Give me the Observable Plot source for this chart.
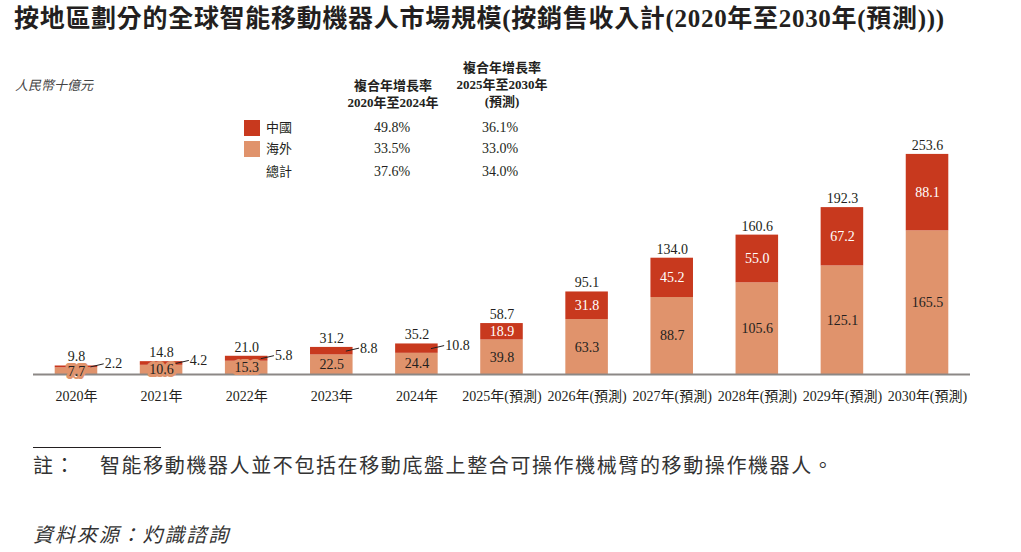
<!DOCTYPE html>
<html><head><meta charset="utf-8">
<script src="https://cdn.jsdelivr.net/npm/d3@7"></script>
<script src="https://cdn.jsdelivr.net/npm/@observablehq/plot@0.6"></script>
<style>
body{margin:0;background:#fff;}
#wrap{position:relative;width:1021px;height:552px;overflow:hidden;font-family:"Liberation Serif","Noto Sans CJK TC",serif;color:#231f20;}
.abs{position:absolute;white-space:nowrap;line-height:1;}
#title{left:14px;top:6px;font-size:25px;font-weight:bold;letter-spacing:0.7px;}
#unit{left:15px;top:79px;font-size:13px;font-style:italic;color:#444;}
.hdr{font-size:13px;font-weight:bold;text-align:center;line-height:17px;transform:translateX(-50%);}
.cell{font-size:14px;transform:translateX(-50%);}
.lab{font-size:13px;}
.sw{width:16px;height:16px;}
#chart{position:absolute;left:0;top:40px;}
#rule{left:33px;top:447px;width:128px;height:1px;background:#231f20;}
.note{font-size:20px;color:#333;letter-spacing:1.6px;}
</style></head>
<body><div id="wrap">
<div id="title" class="abs">按地區劃分的全球智能移動機器人市場規模(按銷售收入計(2020年至2030年(預測)))</div>
<div id="unit" class="abs">人民幣十億元</div>
<div id="legend"></div>
<div id="chart"></div>
<div id="rule" class="abs"></div>
<div class="abs note" style="left:33px;top:456px;">註：</div>
<div class="abs note" style="left:100px;top:456px;">智能移動機器人並不包括在移動底盤上整合可操作機械臂的移動操作機器人。</div>
<div class="abs note" style="left:33px;top:525px;font-style:italic;letter-spacing:1.9px;">資料來源：灼識諮詢</div>
</div>
<script>
const years = ["2020年","2021年","2022年","2023年","2024年","2025年(預測)","2026年(預測)","2027年(預測)","2028年(預測)","2029年(預測)","2030年(預測)"];
const china = [2.2,4.2,5.8,8.8,10.8,18.9,31.8,45.2,55.0,67.2,88.1];
const overseas = [7.7,10.6,15.3,22.5,24.4,39.8,63.3,88.7,105.6,125.1,165.5];
const totals = [9.8,14.8,21.0,31.2,35.2,58.7,95.1,134.0,160.6,192.3,253.6];
const legendNames = ["中國","海外","總計"];
const cagrHeader1 = ["複合年增長率","2020年至2024年"];
const cagrHeader2 = ["複合年增長率","2025年至2030年","(預測)"];
const cagr2020_2024 = ["49.8%","33.5%","37.6%"];
const cagr2025_2030 = ["36.1%","33.0%","34.0%"];

const RED = "#C8391E", ORANGE = "#E0936C", DARK = "#231f20";

// legend / CAGR table
const lg = document.getElementById("legend");
const add = (html, cls, style) => { const d = document.createElement("div"); d.className = "abs " + cls; d.setAttribute("style", style); d.innerHTML = html; lg.appendChild(d); };
add(cagrHeader1.join("<br>"), "hdr", "left:393px;top:77px;");
add(cagrHeader2.join("<br>"), "hdr", "left:502px;top:59px;");
const swatch = [RED, ORANGE, null];
const rowY = [121, 142, 165];
legendNames.forEach((n, k) => {
  if (swatch[k]) add("", "sw", `left:244px;top:${rowY[k]-1}px;background:${swatch[k]};`);
  add(n, "lab", `left:266px;top:${rowY[k]}px;`);
  add(cagr2020_2024[k], "cell", `left:392px;top:${rowY[k]}px;`);
  add(cagr2025_2030[k], "cell", `left:500px;top:${rowY[k]}px;`);
});

const rows = years.map((y, i) => ({i, year: y, china: china[i], overseas: overseas[i], total: totals[i], forecast: i >= 5}));
const hist = rows.filter(d => !d.forecast);
const fc = rows.filter(d => d.forecast);
const half = 0.25;
const rise = 3.5;

const chart = Plot.plot({
  width: 1021, height: 380,
  marginLeft: 33, marginRight: 51, marginTop: 91, marginBottom: 46,
  style: {fontFamily: '"Liberation Serif","Noto Sans CJK TC",serif', fontSize: "14px", color: DARK, background: "transparent"},
  x: {type: "linear", domain: [-0.505, 10.505], axis: null},
  y: {domain: [0, 280], axis: null},
  marks: [
    Plot.rectY(rows, {x1: d => d.i - half, x2: d => d.i + half, y1: 0, y2: "overseas", fill: ORANGE}),
    Plot.rectY(rows, {x1: d => d.i - half, x2: d => d.i + half, y1: "overseas", y2: "total", fill: RED}),
    Plot.ruleY([0], {stroke: "#8c8886", strokeWidth: 2}),
    Plot.text(rows, {x: "i", y: d => d.overseas / 2, text: d => d.overseas.toFixed(1), fill: DARK, stroke: ORANGE, strokeWidth: 6, fontSize: 14}),
    Plot.text(fc, {x: "i", y: d => d.overseas + d.china / 2, text: d => d.china.toFixed(1), fill: "white", fontSize: 14}),
    Plot.link(hist, {x1: d => d.i + 0.165, x2: d => d.i + 0.32, y1: d => d.overseas + d.china / 2, y2: d => d.overseas + d.china / 2 + rise, stroke: DARK, strokeWidth: 1}),
    Plot.text(hist, {x: d => d.i + 0.32, y: d => d.overseas + d.china / 2 + rise, text: d => d.china.toFixed(1), textAnchor: "start", dx: 1, fill: DARK, fontSize: 14}),
    Plot.text(rows, {x: "i", y: "total", text: d => d.total.toFixed(1), dy: -9, fill: DARK, fontSize: 14}),
    Plot.axisX(d3.range(years.length), {tickFormat: i => years[i], tickSize: 0, tickPadding: 17, fontSize: 14, fill: DARK, label: null})
  ]
});
document.getElementById("chart").appendChild(chart);
</script>
</body></html>
